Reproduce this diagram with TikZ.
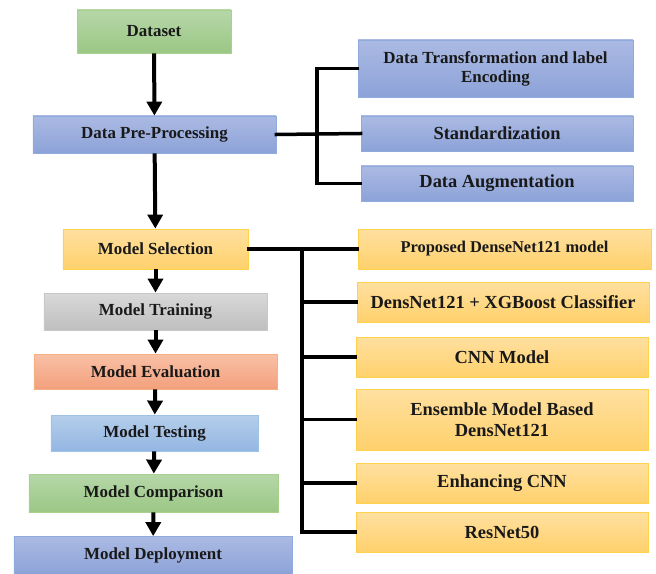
\documentclass[tikz,border=0pt]{standalone}
\usepackage{fontspec}
\setmainfont{Liberation Serif}
\usetikzlibrary{arrows.meta}
\definecolor{gT}{HTML}{B6D7A8}\definecolor{gB}{HTML}{9BC785}\definecolor{gD}{HTML}{A9D18E}
\definecolor{bT}{HTML}{ABBAE3}\definecolor{bB}{HTML}{8CA2D8}\definecolor{bD}{HTML}{8FAADC}
\definecolor{oT}{HTML}{FFE0A0}\definecolor{oB}{HTML}{FFD16C}\definecolor{oD}{HTML}{FFD24D}
\definecolor{yT}{HTML}{D8D8D8}\definecolor{yB}{HTML}{BFBFBF}\definecolor{yD}{HTML}{C8C8C8}
\definecolor{sT}{HTML}{F9C0A6}\definecolor{sB}{HTML}{F3A07C}\definecolor{sD}{HTML}{F4B183}
\definecolor{lT}{HTML}{B5CEEB}\definecolor{lB}{HTML}{93B6E2}\definecolor{lD}{HTML}{9DC3E6}
\tikzset{
  box/.style={rectangle, inner sep=0pt, align=center, line width=0.8bp,
    font=\fontsize{17}{19}\selectfont\bfseries, text=black!90},
  bigtext/.style={font=\fontsize{18.5}{21}\selectfont\bfseries},
  greenbox/.style={box, draw=gD, top color=gT, bottom color=gB},
  bluebox/.style={box, draw=bD, top color=bT, bottom color=bB},
  orangebox/.style={box, draw=oD, top color=oT, bottom color=oB},
  graybox/.style={box, draw=yD, top color=yT, bottom color=yB},
  salmonbox/.style={box, draw=sD, top color=sT, bottom color=sB},
  lbluebox/.style={box, draw=lD, top color=lT, bottom color=lB},
  flow/.style={line width=4bp, -{Triangle[width=15bp,length=14bp]}},
  link/.style={line width=3.5bp, line cap=rect}
}
\begin{document}
\begin{tikzpicture}[x=1bp,y=-1bp]
\useasboundingbox (0,0) rectangle (656,574);
% left column
\node[greenbox, minimum width=154bp, minimum height=43bp] (ds) at (154,31.5) {Dataset};
\node[bluebox, minimum width=243bp, minimum height=37bp] (dpp) at (154.5,134.5) {Data Pre-Processing};
\node[orangebox, minimum width=185bp, minimum height=40bp] (ms) at (155.5,249) {Model Selection};
\node[graybox, minimum width=223bp, minimum height=37bp] (mt) at (155.5,311.5) {Model Training};
\node[salmonbox, minimum width=243bp, minimum height=35bp] (me) at (155.5,371.5) {Model Evaluation};
\node[lbluebox, minimum width=207bp, minimum height=36bp] (mte) at (154.5,433) {Model Testing};
\node[greenbox, minimum width=249bp, minimum height=38bp] (mc) at (153.5,493) {Model Comparison};
\node[bluebox, minimum width=278bp, minimum height=38bp] (md) at (153,555.5) {Model Deployment};
% pre-processing branch
\node[bluebox, minimum width=275bp, minimum height=57bp] (dt) at (495.5,68.5) {Data Transformation and label\\Encoding};
\node[bluebox, bigtext, minimum width=272bp, minimum height=35bp] (st) at (497,133.5) {Standardization};
\node[bluebox, bigtext, minimum width=272bp, minimum height=35bp] (au) at (497,183.5) {Data Augmentation};
% model branch
\node[orangebox, font=\fontsize{16.5}{19}\selectfont\bfseries, minimum width=293bp, minimum height=40bp] (p1) at (504.5,249) {Proposed DenseNet121 model};
\node[orangebox, bigtext, minimum width=292bp, minimum height=40bp] (p2) at (503,302) {DensNet121 + XGBoost Classifier};
\node[orangebox, bigtext, minimum width=292bp, minimum height=40bp] (p3) at (502,357) {CNN Model};
\node[orangebox, bigtext, minimum width=292bp, minimum height=61bp] (p4) at (502,419.5) {Ensemble Model Based\\DensNet121};
\node[orangebox, bigtext, minimum width=292bp, minimum height=40bp] (p5) at (502,483) {Enhancing CNN};
\node[orangebox, bigtext, minimum width=292bp, minimum height=40bp] (p6) at (502,532) {ResNet50};
% flow arrows
\draw[flow] (ds) -- (dpp);
\draw[flow] (dpp) -- (ms);
\draw[flow] (ms) -- (mt);
\draw[flow] (mt) -- (me);
\draw[flow] (me) -- (mte);
\draw[flow] (mte) -- (mc);
\draw[flow] (mc) -- (md);
% pre-processing connectors
\coordinate (j1) at (317,134);
\draw[link] (dpp.east) -- (j1) -- (st.west);
\draw[link] (dt.west) -| (j1) |- (au.west);
% model connectors
\coordinate (j2) at (302,249);
\draw[link] (ms.east) -- (p1.west);
\draw[link] (j2) |- (p6.west);
\draw[link] (j2 |- p2.west) -- (p2.west);
\draw[link] (j2 |- p3.west) -- (p3.west);
\draw[link] (j2 |- p4.west) -- (p4.west);
\draw[link] (j2 |- p5.west) -- (p5.west);
\end{tikzpicture}
\end{document}
